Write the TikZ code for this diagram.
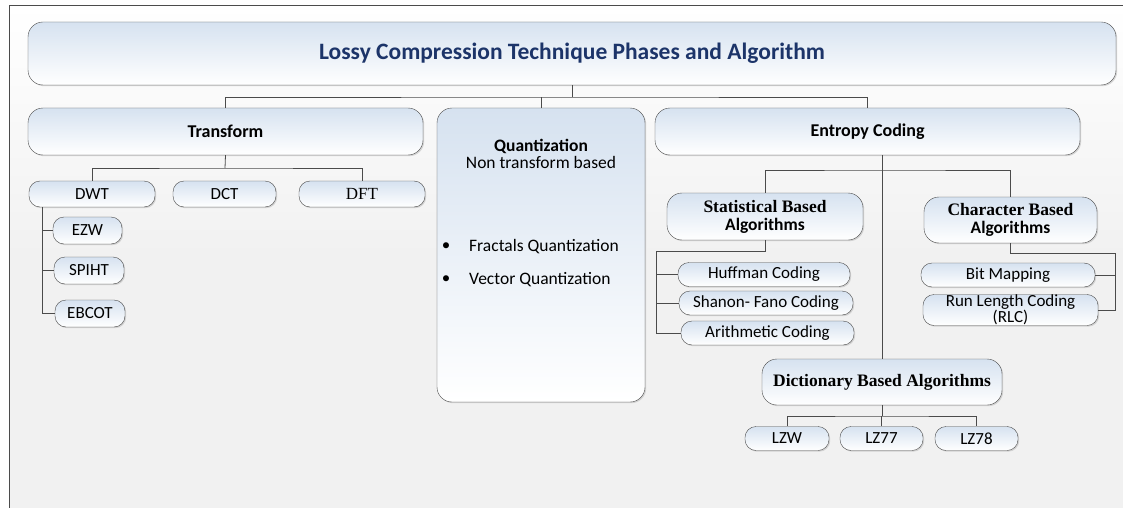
\documentclass[tikz,border=0pt]{standalone}
\usepackage{fontspec}
\setmainfont{Carlito}
\newfontfamily\timesfont{Liberation Serif}
\usetikzlibrary{shadows}
\definecolor{titleblue}{RGB}{28,52,105}
\definecolor{boxtop}{RGB}{214,226,240}
\definecolor{boxline}{RGB}{75,75,75}
\definecolor{paper}{RGB}{241,241,241}
\tikzset{
  phase/.style={draw=boxline, top color=boxtop, bottom color=white, rounded corners=15pt,
    drop shadow={shadow xshift=1.2pt, shadow yshift=-1.2pt, fill=black!30},
    inner sep=0pt, align=center, font=\fontsize{18}{18}\selectfont\bfseries},
  leaf/.style={phase, rounded corners=11pt, font=\fontsize{17}{17}\selectfont},
  wire/.style={draw=boxline, line width=0.8pt}
}
\begin{document}
\begin{tikzpicture}[x=1pt, y=-1pt]
    \useasboundingbox (0,0) rectangle (1123,508);
    \fill[top color=white, bottom color=paper, middle color=paper] (9,5) rectangle (1123,508);
    \draw[boxline, line width=0.8pt] (9,508) -- (9,5) -- (1123,5);

    \node[phase, minimum width=1088, minimum height=63, font=\fontsize{23.5}{25}\selectfont\bfseries, text=titleblue] (title) at (572,53.5) {Lossy Compression Technique Phases and Algorithm};

    \node[phase, minimum width=395, minimum height=47] (trans) at (225.5,131.5) {Transform};
    \node[phase, minimum width=208, minimum height=294] (quant) at (541,255) {};
    \node[phase, minimum width=425, minimum height=47] (entropy) at (867.5,131.5) {Entropy Coding};

    \node[align=center, font=\fontsize{17.5}{16.5}\selectfont] (qhead) at (541,154) {\textbf{Quantization}\\Non transform based};
    \node[font=\fontsize{17}{17}\selectfont] (dot1) at (446,247) {\textbullet};
    \node[font=\fontsize{17}{17}\selectfont] (dot2) at (446,280) {\textbullet};
    \node[anchor=west, inner sep=0pt, font=\fontsize{17.5}{17}\selectfont] (fractal) at (469,247) {Fractals Quantization};
    \node[anchor=west, inner sep=0pt, font=\fontsize{17.5}{17}\selectfont] (vector) at (469,280) {Vector Quantization};

    \node[leaf, minimum width=126, minimum height=26] (dwt) at (92,194) {DWT};
    \node[leaf, minimum width=103, minimum height=26] (dct) at (224.5,194) {DCT};
    \node[leaf, minimum width=126, minimum height=26, font=\fontsize{17}{17}\selectfont\timesfont] (dft) at (362,194) {DFT};
    \node[leaf, minimum width=69, minimum height=27] (ezw) at (87.5,230.5) {EZW};
    \node[leaf, minimum width=70, minimum height=27] (spiht) at (89,270.5) {SPIHT};
    \node[leaf, minimum width=70, minimum height=27] (ebcot) at (90,313.5) {EBCOT};

    \node[phase, minimum width=196, minimum height=47, font=\fontsize{17.5}{18}\selectfont\bfseries] (stat) at (765,216.5) {{\timesfont Statistical Based}\\Algorithms};
    \node[phase, minimum width=173, minimum height=46, font=\fontsize{17.5}{17.5}\selectfont\bfseries] (char) at (1010.5,220) {{\timesfont Character Based}\\Algorithms};
    \node[leaf, minimum width=172, minimum height=24] (huff) at (764,274.5) {Huffman Coding};
    \node[leaf, minimum width=174, minimum height=24] (shan) at (766,303) {Shanon- Fano Coding};
    \node[leaf, minimum width=173, minimum height=24] (arith) at (767.5,333) {Arithmetic Coding};
    \node[leaf, minimum width=174, minimum height=24] (bitmap) at (1008,275) {Bit Mapping};
    \node[leaf, minimum width=175, minimum height=31, font=\fontsize{17}{16}\selectfont] (rlc) at (1010.5,310) {Run Length Coding\\(RLC)};

    \node[phase, minimum width=240, minimum height=46, font=\fontsize{17.5}{17}\selectfont\bfseries\timesfont] (dict) at (882,382) {Dictionary Based Algorithms};
    \node[leaf, minimum width=84, minimum height=24] (lzw) at (787,438.5) {LZW};
    \node[leaf, minimum width=83, minimum height=24] (lz77) at (881.5,438.5) {LZ77};
    \node[leaf, minimum width=83, minimum height=24] (lz78) at (976.5,438.5) {LZ78};

    \coordinate (phasebus) at (573,97);
    \coordinate (transbus) at (225,168);
    \coordinate (dwtrail) at (42,207);
    \coordinate (entbus) at (882,170);
    \coordinate (statbus) at (656,251);
    \coordinate (charbus) at (1115,253);
    \coordinate (dictbus) at (882,416);

    \path[wire]
    (title.south) edge (title.south |- phasebus)
    (quant.north) edge (quant.north |- phasebus);
    \draw[wire] (trans.north) |- (phasebus) -| (entropy.north);

    \draw[wire] (trans.south) -- (transbus);
    \draw[wire] (dwt.north) |- (transbus) -| (dft.north);
    \draw[wire] (dwtrail) |- (ebcot.west);
    \path[wire]
    (ezw.west) edge (ezw.west -| dwtrail)
    (spiht.west) edge (spiht.west -| dwtrail);

    \draw[wire] (entropy.south -| entbus) -- (dict.north -| entbus);
    \draw[wire] (stat.north) |- (entbus) -| (char.north);

    \draw[wire] (stat.south) |- (statbus) |- (arith.west);
    \path[wire]
    (huff.west) edge (huff.west -| statbus)
    (shan.west) edge (shan.west -| statbus);

    \draw[wire] (char.south) |- (charbus) |- (rlc.east);
    \draw[wire] (bitmap.east) -- (bitmap.east -| charbus);

    \draw[wire] (dict.south) -- (dictbus);
    \draw[wire] (lzw.north) |- (dictbus) -| (lz78.north);
    \draw[wire] (lz77.north) -- (lz77.north |- dictbus);
\end{tikzpicture}
\end{document}
